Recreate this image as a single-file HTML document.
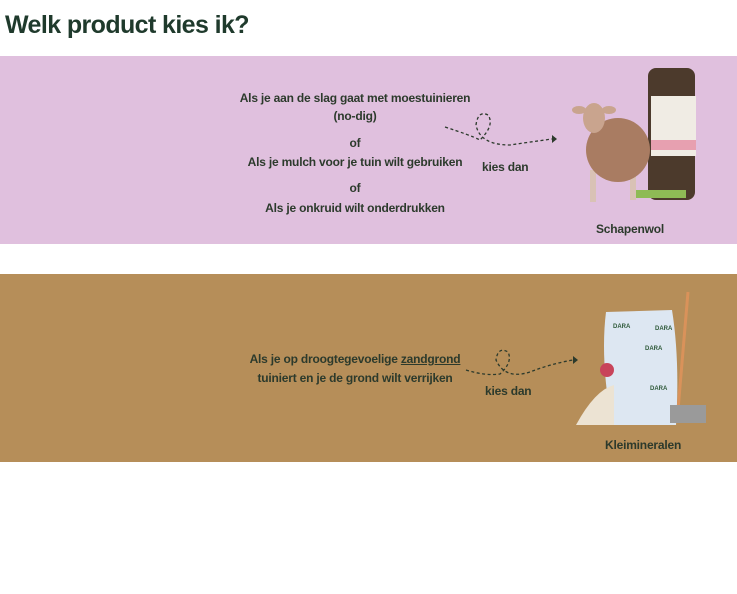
<!DOCTYPE html>
<html><head><style>
body{margin:0;width:737px;height:594px;background:#fff;position:relative;overflow:hidden;font-family:"Liberation Sans",sans-serif;}
.t{position:absolute;color:#2c3a2c;font-size:12px;font-weight:bold;text-align:center;white-space:nowrap;letter-spacing:-0.2px}
h1{position:absolute;left:5px;top:11px;margin:0;font-size:25px;color:#1f3a2c;font-weight:bold;letter-spacing:-0.6px}
.band{position:absolute;left:0;width:737px;height:188px}
</style></head><body>
<h1>Welk product kies ik?</h1>
<div class="band" style="top:56px;background:#e0c0de"></div>
<div class="band" style="top:274px;background:#b68e59"></div>

<div class="t" style="left:200px;width:310px;top:91px">Als je aan de slag gaat met moestuinieren</div>
<div class="t" style="left:200px;width:310px;top:109px">(no-dig)</div>
<div class="t" style="left:200px;width:310px;top:136px">of</div>
<div class="t" style="left:200px;width:310px;top:155px">Als je mulch voor je tuin wilt gebruiken</div>
<div class="t" style="left:200px;width:310px;top:181px">of</div>
<div class="t" style="left:200px;width:310px;top:201px">Als je onkruid wilt onderdrukken</div>
<div class="t" style="left:482px;top:160px">kies dan</div>
<div class="t" style="left:596px;top:222px">Schapenwol</div>
<svg style="position:absolute;left:0;top:0" width="737" height="594">
<g fill="none" stroke="#2c3a2c" stroke-width="1.3" stroke-dasharray="3,2.5">
<path d="M445 127 Q470 135 480 140 Q495 125 488 115 Q478 110 476 125 Q480 145 510 145 Q530 142 552 139"/>
<path d="M466 370 Q485 376 500 374 Q513 362 508 352 Q498 346 496 360 Q505 380 530 372 Q550 364 573 360"/>
</g>
<path d="M552 135 L557 139 L552 143Z M573 356 L578 360 L573 364Z" fill="#2c3a2c"/>
<!-- roll -->
<rect x="648" y="68" width="47" height="132" rx="8" fill="#4c3a2c"/>
<rect x="651" y="96" width="45" height="60" fill="#f0ece4"/>
<rect x="651" y="140" width="45" height="10" fill="#e7a0b0"/>
<rect x="636" y="190" width="50" height="8" fill="#8ebb55"/>
<!-- sheep -->
<rect x="590" y="170" width="6" height="32" fill="#d9c2b5"/><rect x="630" y="170" width="6" height="30" fill="#d9c2b5"/>
<ellipse cx="618" cy="150" rx="32" ry="32" fill="#a97c62"/>
<ellipse cx="594" cy="118" rx="11" ry="15" fill="#c9a48e"/>
<ellipse cx="579" cy="110" rx="7" ry="4" fill="#c9a48e"/><ellipse cx="609" cy="110" rx="7" ry="4" fill="#c9a48e"/>
<!-- bag -->
<path d="M606 312 L672 310 Q680 360 676 425 L612 425 Q600 360 606 312Z" fill="#dde7f2"/>
<path d="M576 425 L614 425 L614 385 Q595 390 576 425Z" fill="#ece3d3"/>
<g fill="#2f5a3a" font-size="6" font-weight="bold" font-family="Liberation Sans"><text x="613" y="328">DARA</text><text x="655" y="330">DARA</text><text x="645" y="350">DARA</text><text x="650" y="390">DARA</text></g>
<circle cx="607" cy="370" r="7" fill="#c8445a"/>
<line x1="688" y1="292" x2="678" y2="410" stroke="#d9925a" stroke-width="3"/>
<rect x="670" y="405" width="36" height="18" fill="#9a9a9a"/>
</svg>
<div class="t" style="left:200px;width:310px;top:352px">Als je op droogtegevoelige <u>zandgrond</u></div>
<div class="t" style="left:200px;width:310px;top:371px">tuiniert en je de grond wilt verrijken</div>
<div class="t" style="left:485px;top:384px">kies dan</div>
<div class="t" style="left:605px;top:438px">Kleimineralen</div>
</body></html>
